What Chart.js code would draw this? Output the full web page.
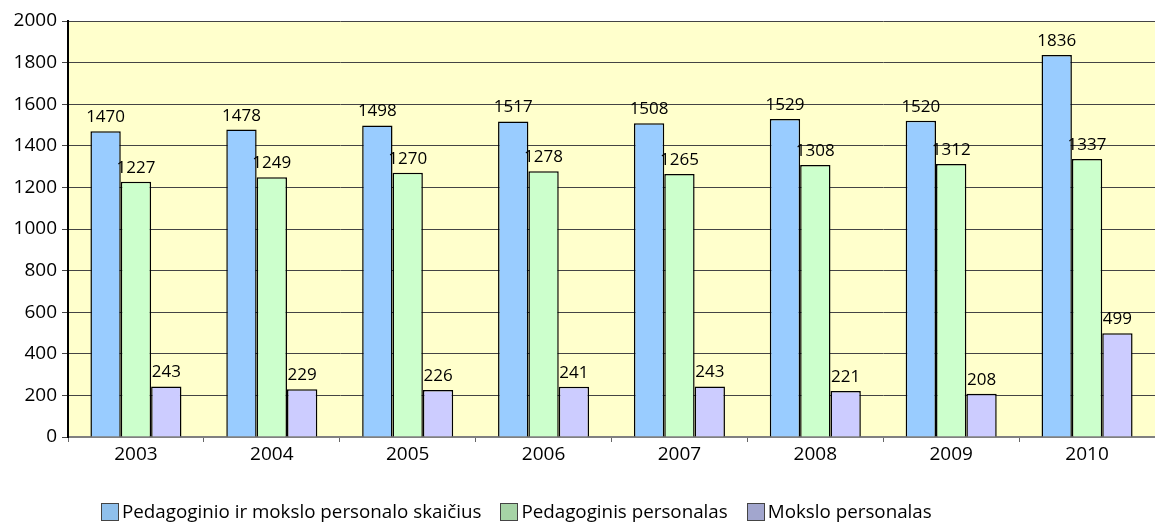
<!DOCTYPE html>
<html>
<head>
<meta charset="utf-8">
<script src="https://cdn.jsdelivr.net/npm/chart.js@4/dist/chart.umd.min.js"></script>
<style>
  html, body { margin: 0; padding: 0; background: #fff; }
  #wrap { width: 1155px; height: 524px; position: relative; }
  #legend {
    position: absolute; left: 101px; top: 502px;
    display: flex; align-items: center;
    font: 18.8px 'Open Sans', 'Noto Sans', sans-serif; color: #000;
    white-space: nowrap; line-height: 19px;
  }
  #legend .item { display: flex; align-items: center; margin-right: 19px; }
  #legend .box { width: 18px; height: 18px; border: 1px solid #444; margin-right: 3px; box-sizing: border-box; }
</style>
</head>
<body>
<div id="wrap">
  <canvas id="chart"></canvas>
  <div id="legend"></div>
</div>
<script>
// duomenys
const years = ['2003', '2004', '2005', '2006', '2007', '2008', '2009', '2010'];
const totalStaff = [1470, 1478, 1498, 1517, 1508, 1529, 1520, 1836];
const teachingStaff = [1227, 1249, 1270, 1278, 1265, 1308, 1312, 1337];
const researchStaff = [243, 229, 226, 241, 243, 221, 208, 499];
const yTicks = [0, 200, 400, 600, 800, 1000, 1200, 1400, 1600, 1800, 2000];
const seriesNames = ['Pedagoginio ir mokslo personalo skaičius', 'Pedagoginis personalas', 'Mokslo personalas'];

const FONT = "'Open Sans', 'Noto Sans', sans-serif";
const barColors = ['#99CCFF', '#CCFFCC', '#CCCCFF'];
const legendColors = ['#8FC0EC', '#A6D3A6', '#A2A6CE'];

// geltonas fonas
const plotBg = {
  id: 'plotBg',
  beforeDraw(chart) {
    const { ctx, chartArea: a } = chart;
    ctx.save();
    ctx.fillStyle = '#FFFFCC';
    ctx.fillRect(a.left, a.top, a.right - a.left, a.bottom - a.top);
    ctx.restore();
  }
};

// reikšmės virš stulpelių
const barValues = {
  id: 'barValues',
  afterDatasetsDraw(chart) {
    const ctx = chart.ctx;
    ctx.save();
    ctx.font = '17px ' + FONT;
    ctx.fillStyle = '#000';
    ctx.textAlign = 'center';
    ctx.textBaseline = 'alphabetic';
    chart.data.datasets.forEach((ds, i) => {
      chart.getDatasetMeta(i).data.forEach((bar, j) => {
        ctx.fillText(ds.data[j], bar.x, bar.y - 9);
      });
    });
    ctx.restore();
  }
};

const seriesData = [totalStaff, teachingStaff, researchStaff];

new Chart(document.getElementById('chart'), {
  type: 'bar',
  data: {
    labels: years,
    datasets: seriesData.map((d, i) => ({
      label: seriesNames[i],
      data: d,
      backgroundColor: barColors[i],
      borderColor: '#000',
      borderWidth: 1.5
    }))
  },
  options: {
    responsive: true,
    maintainAspectRatio: false,
    animation: false,
    layout: { padding: { top: 21, left: 0, right: 0, bottom: 0 } },
    datasets: { bar: { categoryPercentage: 0.67, barPercentage: 1.0 } },
    scales: {
      x: {
        grid: {
          offset: true,
          drawOnChartArea: false,
          drawTicks: true,
          tickLength: 5,
          color: '#666'
        },
        border: { color: '#808080', width: 2 },
        ticks: { color: '#000', font: { family: FONT, size: 19 }, padding: 1 },
        afterFit(scale) { scale.height = 87; }
      },
      y: {
        min: 0,
        max: 2000,
        afterBuildTicks(scale) { scale.ticks = yTicks.map(v => ({ value: v })); },
        grid: { color: '#444', tickLength: 6, drawTicks: true },
        border: { color: '#000', width: 2 },
        ticks: {
          color: '#000',
          font: { family: FONT, size: 19 },
          padding: 5,
          callback: v => String(v)
        },
        afterFit(scale) { scale.width = 68; }
      }
    },
    plugins: {
      legend: { display: false },
      tooltip: { enabled: false }
    }
  },
  plugins: [plotBg, barValues]
});

// legenda
const legendEl = document.getElementById('legend');
seriesNames.forEach((name, i) => {
  const item = document.createElement('div');
  item.className = 'item';
  const box = document.createElement('span');
  box.className = 'box';
  box.style.background = legendColors[i];
  const txt = document.createElement('span');
  txt.textContent = name;
  item.appendChild(box);
  item.appendChild(txt);
  legendEl.appendChild(item);
});
</script>
</body>
</html>
